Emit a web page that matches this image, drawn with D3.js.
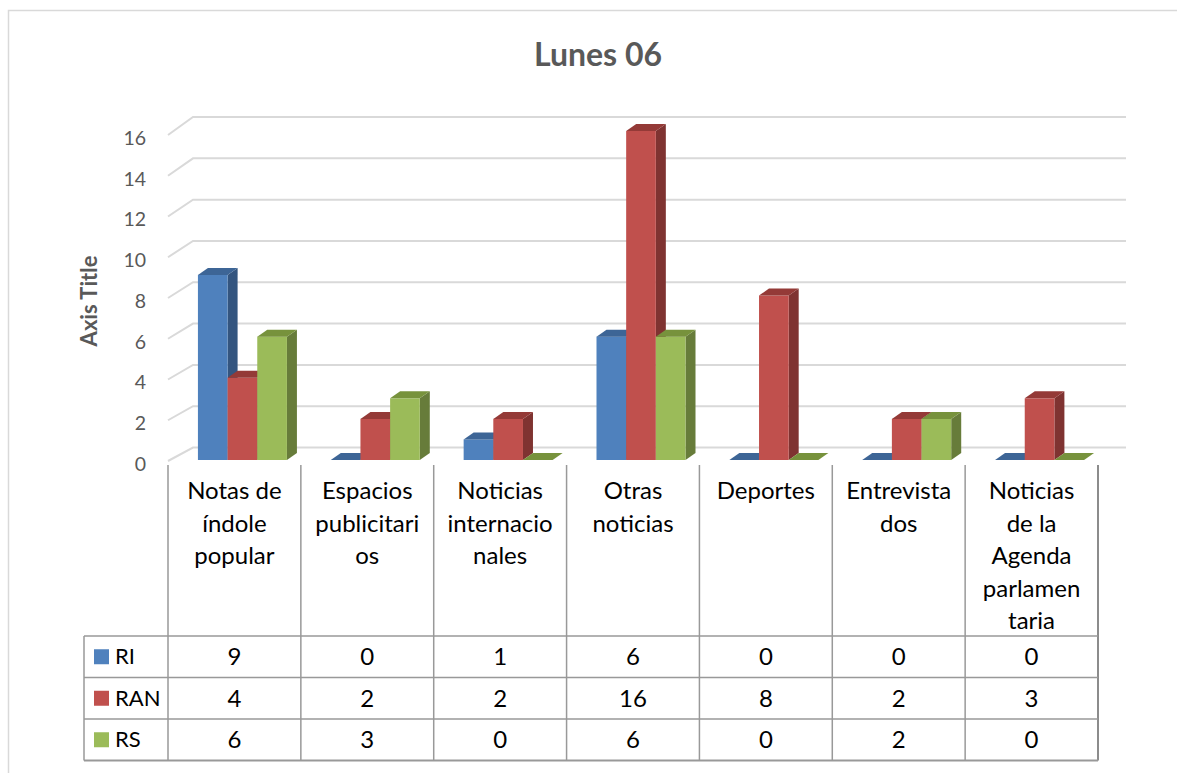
<!DOCTYPE html>
<html>
  <head>
    <meta charset="UTF-8">
    <title>Lunes 06</title>
    <script src="https://d3js.org/d3.v7.min.js"></script>
    <style>
      body { margin: 0; background: #fff; }
      text { font-family: Lato, "Open Sans", sans-serif; }
    </style>
  </head>
  <body>
    <div id="chart-container"></div>
  <script type="text/javascript">

    // Data
    const categories = ["Notas de índole popular", "Espacios publicitarios", "Noticias internacionales",
        "Otras noticias", "Deportes", "Entrevistados", "Noticias de la Agenda parlamentaria"];
    // wrapped the same way the original table header does it
    const categoryLines = [
        ["Notas de", "índole", "popular"],
        ["Espacios", "publicitari", "os"],
        ["Noticias", "internacio", "nales"],
        ["Otras", "noticias"],
        ["Deportes"],
        ["Entrevista", "dos"],
        ["Noticias", "de la", "Agenda", "parlamen", "taria"]
    ];
    const seriesNames = ["RI", "RAN", "RS"];
    const RI  = [9, 0, 1, 6, 0, 0, 0];
    const RAN = [4, 2, 2, 16, 8, 2, 3];
    const RS  = [6, 3, 0, 6, 0, 2, 0];
    const yTicks = [0, 2, 4, 6, 8, 10, 12, 14, 16];

    const seriesValues = [RI, RAN, RS];

    const width = 1177;
    const height = 773;

    // colours: front, side, top
    const colours = {
        RI:  {front: "#4f81bd", side: "#34557f", top: "#3d6596"},
        RAN: {front: "#c0504d", side: "#7f3331", top: "#943a37"},
        RS:  {front: "#9bbb59", side: "#677c3a", top: "#77923c"}
    };

    // depth of the floor (front edge -> back wall)
    const depth = {dx: 25, dy: -18};
    // depth of a single bar
    const barDepth = {dx: 10, dy: -7};

    // x for the categories (table columns)
    const x = d3.scaleBand()
        .domain(categories)
        .range([168, 1098]);

    const inner = d3.scaleBand()
        .domain(seriesNames)
        .range([0, 89]);

    // value scales: bars plane, front edge and back wall
    const y = d3.scaleLinear().domain([0, 16]).range([460, 131]);
    const yFront = d3.scaleLinear().domain([0, 16]).range([461, 135]);
    const yBack = d3.scaleLinear().domain([0, 16]).range([447.5, 117]);

    const svg = d3.select("#chart-container")
        .append("svg")
        .attr("width", width)
        .attr("height", height);

    // chart border
    svg.append("rect")
        .attr("x", 8.5).attr("y", 10.5)
        .attr("width", width + 20).attr("height", height + 20)
        .attr("fill", "#fff")
        .attr("stroke", "#d9d9d9")
        .attr("stroke-width", 1.5);

    // title
    svg.append("text")
        .attr("x", 598).attr("y", 66)
        .attr("text-anchor", "middle")
        .attr("font-size", 32)
        .attr("font-weight", "bold")
        .attr("fill", "#595959")
        .text("Lunes 06");

    // gridlines (back wall + left diagonal)
    const grid = svg.append("g");
    const xLeft = x.range()[0];
    const xRight = x.range()[1];
    yTicks.forEach(t => {
        grid.append("path")
            .attr("d", `M${xLeft},${yFront(t)} L${xLeft + depth.dx},${yBack(t)} L${xRight + 28},${yBack(t)}`)
            .attr("fill", "none")
            .attr("stroke", "#d9d9d9")
            .attr("stroke-width", 2);
    });

    // y tick labels
    svg.append("g")
        .selectAll("text")
        .data(yTicks)
        .join("text")
        .attr("x", 146)
        .attr("y", d => yFront(d) + 3)
        .attr("dy", "0.35em")
        .attr("text-anchor", "end")
        .attr("font-size", 19.5)
        .attr("fill", "#595959")
        .text(d => d);

    // axis title
    svg.append("text")
        .attr("transform", "translate(97,301) rotate(-90)")
        .attr("text-anchor", "middle")
        .attr("font-size", 22)
        .attr("font-weight", "bold")
        .attr("fill", "#595959")
        .text("Axis Title");

    // bars
    const bars = svg.append("g");
    categories.forEach((c, i) => {
        const groupX = x(c) + (x.bandwidth() - inner.range()[1]) / 2 + 8;
        seriesNames.forEach((s, j) => {
            const v = seriesValues[j][i];
            const x0 = groupX + inner(s);
            const x1 = x0 + inner.bandwidth();
            const y0 = y(0);
            const y1 = y(v);
            const col = colours[s];
            // side face
            if (v > 0) {
                bars.append("path")
                    .attr("d", `M${x1},${y0} L${x1 + barDepth.dx},${y0 + barDepth.dy} L${x1 + barDepth.dx},${y1 + barDepth.dy} L${x1},${y1} Z`)
                    .attr("fill", col.side);
                bars.append("rect")
                    .attr("x", x0).attr("y", y1)
                    .attr("width", x1 - x0).attr("height", y0 - y1)
                    .attr("fill", col.front);
            }
            // top face
            bars.append("path")
                .attr("d", `M${x0},${y1} L${x0 + barDepth.dx},${y1 + barDepth.dy} L${x1 + barDepth.dx},${y1 + barDepth.dy} L${x1},${y1} Z`)
                .attr("fill", col.top);
        });
    });

    // data table
    const table = svg.append("g");
    const rowTop = 636;
    const rowH = 41.5;
    const tableLeft = 84;
    const lineColour = "#999";

    // vertical lines at category boundaries
    const bounds = categories.map(c => x(c)).concat([xRight]);
    bounds.forEach((bx, k) => {
        table.append("line")
            .attr("x1", bx).attr("x2", bx)
            .attr("y1", 465).attr("y2", rowTop + rowH * 3)
            .attr("stroke", k === bounds.length - 1 ? "#8c8c8c" : lineColour)
            .attr("stroke-width", k === bounds.length - 1 ? 2 : 1.5);
    });
    // horizontal lines
    d3.range(4).forEach(r => {
        table.append("line")
            .attr("x1", tableLeft).attr("x2", xRight)
            .attr("y1", rowTop + rowH * r).attr("y2", rowTop + rowH * r)
            .attr("stroke", lineColour)
            .attr("stroke-width", r === 3 ? 2 : 1.5);
    });
    table.append("line")
        .attr("x1", tableLeft).attr("x2", tableLeft)
        .attr("y1", rowTop).attr("y2", rowTop + rowH * 3)
        .attr("stroke", lineColour)
        .attr("stroke-width", 1.5);

    // category header labels
    categories.forEach((c, i) => {
        const t = table.append("text")
            .attr("text-anchor", "middle")
            .attr("font-size", 24)
            .attr("fill", "#000");
        categoryLines[i].forEach((line, k) => {
            t.append("tspan")
                .attr("x", x(c) + x.bandwidth() / 2)
                .attr("y", 491 + k * 32.5)
                .attr("dy", "0.35em")
                .text(line);
        });
    });

    // rows: legend key + values
    seriesNames.forEach((s, j) => {
        const cy = rowTop + rowH * j + rowH / 2;
        table.append("rect")
            .attr("x", 94).attr("y", cy - 7.5)
            .attr("width", 15).attr("height", 15)
            .attr("fill", colours[s].front);
        table.append("text")
            .attr("x", 115).attr("y", cy)
            .attr("dy", "0.35em")
            .attr("font-size", 22)
            .attr("fill", "#000")
            .text(s);
        table.append("g")
            .selectAll("text")
            .data(seriesValues[j])
            .join("text")
            .attr("x", (d, i) => x(categories[i]) + x.bandwidth() / 2)
            .attr("y", cy)
            .attr("dy", "0.35em")
            .attr("text-anchor", "middle")
            .attr("font-size", 24)
            .attr("fill", "#000")
            .text(d => d);
    });
  </script>
  </body>
</html>
